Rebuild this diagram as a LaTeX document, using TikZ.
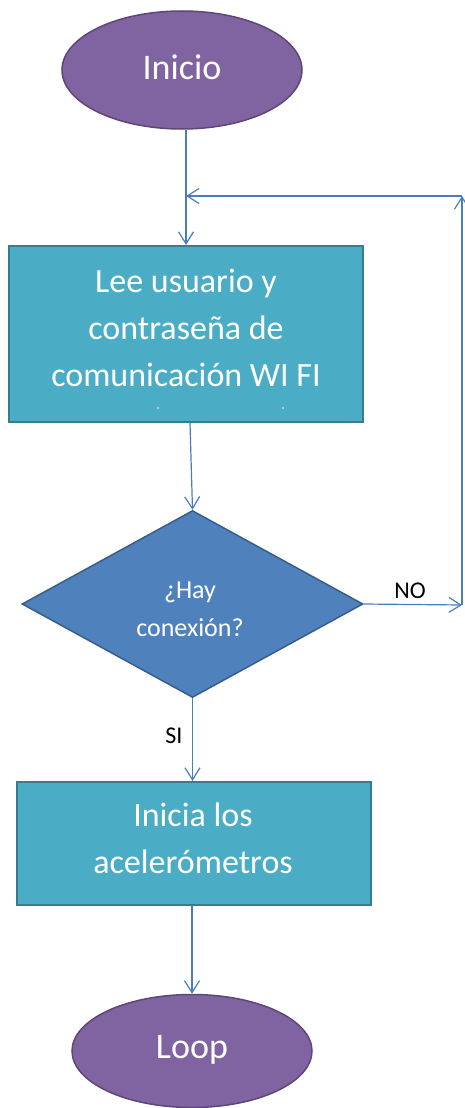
\documentclass[tikz,border=0pt]{standalone}
\usepackage{fontspec}
\setmainfont{Carlito}
\usetikzlibrary{shapes.geometric,arrows.meta}
\definecolor{purpfill}{HTML}{8064A2}
\definecolor{purpline}{HTML}{5C4776}
\definecolor{aquafill}{HTML}{4BACC6}
\definecolor{aqualine}{HTML}{357D91}
\definecolor{bluefill}{HTML}{4F81BD}
\definecolor{blueline}{HTML}{385D8A}
\definecolor{conn}{HTML}{4A7EBB}
\tikzset{
  terminal/.style={ellipse, draw=purpline, fill=purpfill, line width=1.5pt,
    minimum width=240pt, minimum height=118pt, inner sep=0pt},
  procbox/.style={rectangle, draw=aqualine, fill=aquafill, line width=2.2pt, inner sep=0pt},
  decision/.style={diamond, draw=blueline, fill=bluefill, line width=1.5pt, inner sep=0pt},
  intext/.style={text=white, align=center, inner sep=0pt},
  lbl/.style={text=black, inner sep=0pt, font=\fontsize{24}{28}\selectfont},
  conn/.style={draw=conn, line width=1.2pt, -{Straight Barb[length=12pt,width=15pt]}}
}
\begin{document}
\begin{tikzpicture}[x=1pt,y=-1pt]
\useasboundingbox (0,0) rectangle (465,1108);
% start
\node[terminal] (start) at (182,70) {};
\node[intext, font=\fontsize{36}{42}\selectfont] (tstart) at (182,67) {Inicio};
% process 1
\node[procbox, minimum width=354pt, minimum height=176pt] (read) at (186,334) {};
\node[intext, font=\fontsize{34}{47}\selectfont] (tread) at (186,328) {Lee usuario y\\contraseña de\\comunicación WI FI};
\fill[white] (158,408) circle (0.9pt);
\fill[white] (283,408) circle (0.9pt);
% decision
\node[decision, minimum width=341pt, minimum height=187pt, aspect=1.82] (dec) at (192.5,604) {};
\node[intext, font=\fontsize{26}{38}\selectfont] (tdec) at (190,609) {¿Hay\\conexión?};
% process 2
\node[procbox, minimum width=354pt, minimum height=123pt] (init) at (194,843.5) {};
\node[intext, font=\fontsize{34}{47}\selectfont] (tinit) at (193,838) {Inicia los\\acelerómetros};
% end
\node[terminal, minimum height=113pt] (loop) at (192,1051) {};
\node[intext, font=\fontsize{36}{42}\selectfont] (tloop) at (192,1050) {Loop};
% helper coordinates
\coordinate (nr) at (462,605);
\coordinate (tr) at (462,196);
\coordinate (tl) at (186,196);
% connectors
\draw[conn] (start.south -| tl) -- (read.north);
\draw[conn] (read.south -| 190,0) -- (dec.north);
\draw[conn] (dec.east) -- (nr);
\draw[conn] (nr) -- (tr);
\draw[conn] (tr) -- (tl);
\draw[conn] (dec.south) -- (init.north -| dec.south);
\draw[conn] (init.south -| 192,0) -- (loop.north);
% labels
\node[lbl] (no) at (410,591) {NO};
\node[lbl] (si) at (174,736) {SI};
\end{tikzpicture}
\end{document}
